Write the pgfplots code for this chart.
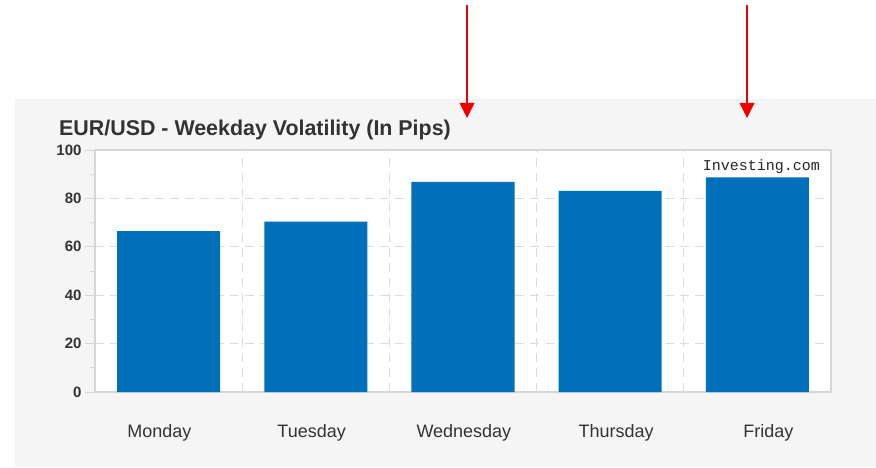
\documentclass[border=0pt]{standalone}
\usepackage{fontspec}
\setmainfont{Liberation Sans}
\newfontfamily\monofont{Liberation Mono}
\usepackage{pgfplots}
\pgfplotsset{compat=1.18}
\definecolor{panel}{HTML}{F5F5F5}
\definecolor{barblue}{HTML}{0070BA}
\definecolor{axgray}{HTML}{D6D6D6}
\definecolor{gridgray}{HTML}{DCDCDC}
\definecolor{txt}{HTML}{333333}
\definecolor{arrowred}{HTML}{F20000}
\begin{document}
\begin{tikzpicture}[x=1pt,y=1pt]
\fill[white] (0,0) rectangle (876,467);
\fill[panel] (15,0) rectangle (876,368);
\begin{axis}[
  at={(95pt,75pt)}, anchor=south west,
  scale only axis, width=736pt, height=242pt,
  xmin=-0.5, xmax=4.5, ymin=0, ymax=100,
  axis background/.style={fill=white},
  axis line style={axgray, line width=1.3pt},
  ybar, bar width=0.7,
  ytick={0,20,40,60,80,100},
  minor ytick={10,30,50,70,90},
  ytick pos=left, xtick pos=bottom,
  tick align=outside,
  major tick length=10pt, minor tick length=5pt,
  tick style={axgray, line width=1pt},
  every major x tick/.style={draw=none},
  ymajorgrids=true,
  major grid style={gridgray, dash pattern=on 9pt off 6pt, line width=1.2pt},
  xtick={-0.062,0.972,2.006,3.040,4.074},
  xticklabels={Monday,Tuesday,Wednesday,Thursday,Friday},
  extra x ticks={0.5,1.5,2.5,3.5},
  extra x tick labels={},
  extra x tick style={grid=major},
  xticklabel style={font=\fontsize{18}{21}\selectfont, text=txt, anchor=base, yshift=-35pt},
  yticklabel style={font=\fontsize{15}{18}\selectfont\bfseries, text=txt},
  /pgf/number format/assume math mode=true,
  clip=false,
]
\addplot[fill=barblue, draw=none] coordinates {(0,66.5) (1,70.4) (2,86.8) (3,83.1) (4,88.7)};
\end{axis}
\node[anchor=base west, text=txt, inner sep=0pt] at (59,331) {\fontsize{21.4}{25}\selectfont\bfseries EUR/USD - Weekday Volatility (In Pips)};
\node[anchor=base east, text=black!85, inner sep=0pt] at (820,297) {\monofont\fontsize{15}{18}\selectfont Investing.com};
\draw[arrowred, line width=1.8pt] (467,462) -- (467,362);
\fill[arrowred] (459.5,364) -- (474.5,364) -- (467,349) -- cycle;
\draw[arrowred, line width=1.8pt] (747,462) -- (747,362);
\fill[arrowred] (739.5,364) -- (754.5,364) -- (747,349) -- cycle;
\useasboundingbox (0,0) rectangle (876,467);
\end{tikzpicture}
\end{document}
